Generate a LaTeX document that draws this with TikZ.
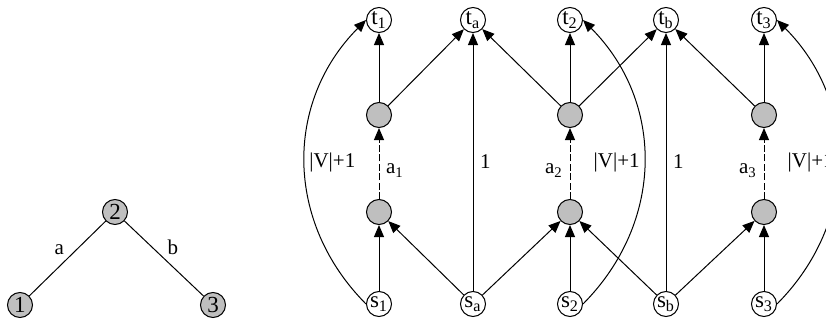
\documentclass[tikz,border=0pt]{standalone}
\usepackage{fontspec}
\setmainfont{Liberation Serif}
\usetikzlibrary{arrows.meta, positioning}

\begin{document}
\begin{tikzpicture}[
    x=0.5pt, y=-0.5pt,
    line width=0.5pt,
    font=\fontsize{10.5}{12}\selectfont,
    vertex/.style={circle, draw, fill=gray!50, minimum size=12.5pt, inner sep=0pt,
        font=\fontsize{11.5}{12}\selectfont},
    terminal/.style={circle, draw, fill=white, minimum size=12.5pt, inner sep=0pt,
        font=\fontsize{11.5}{12}\selectfont},
    arc/.style={-{Triangle[length=6pt, width=5pt]}},
    gadget/.style={arc, dash pattern=on 3.5pt off 1.2pt},
    weight/.style={inner sep=2pt}
]
    \useasboundingbox (0,0) rectangle (826,321);
    \clip (0,0) rectangle (826,321);

    % Input graph
    \node[vertex] (v1) at (20,305) {1};
    \node[vertex] (v2) at (115,212) {2};
    \node[vertex] (v3) at (213,305) {3};
    \draw (v1) -- node[above left, inner sep=1.5pt] {a} (v2);
    \draw (v2) -- node[above right, inner sep=1.5pt] {b} (v3);

    % Sources
    \node[terminal] (s1) at (379,304) {s\textsubscript{1}};
    \node[terminal] (sa) at (473,304) {s\textsubscript{a}};
    \node[terminal] (s2) at (570,304) {s\textsubscript{2}};
    \node[terminal] (sb) at (666,304) {s\textsubscript{b}};
    \node[terminal] (s3) at (764,304) {s\textsubscript{3}};

    % Sinks
    \node[terminal] (t1) at (379,20) {t\textsubscript{1}};
    \node[terminal] (ta) at (473,20) {t\textsubscript{a}};
    \node[terminal] (t2) at (570,20) {t\textsubscript{2}};
    \node[terminal] (tb) at (666,20) {t\textsubscript{b}};
    \node[terminal] (t3) at (764,20) {t\textsubscript{3}};

    % Inner vertices
    \node[vertex] (low1) at (379,212) {};
    \node[vertex] (low2) at (570,212) {};
    \node[vertex] (low3) at (764,212) {};
    \node[vertex] (up1) at (379,115) {};
    \node[vertex] (up2) at (570,115) {};
    \node[vertex] (up3) at (764,115) {};

    % Lower layer
    \draw[arc] (s1) -- (low1);
    \draw[arc] (sa) -- (low1);
    \draw[arc] (sa) -- (low2);
    \draw[arc] (s2) -- (low2);
    \draw[arc] (sb) -- (low2);
    \draw[arc] (sb) -- (low3);
    \draw[arc] (s3) -- (low3);

    % Middle layer
    \draw[gadget] (low1) -- node[right, pos=0.4] {a\textsubscript{1}} (up1);
    \draw[gadget] (low2) -- node[left, pos=0.4] {a\textsubscript{2}} (up2);
    \draw[gadget] (low3) -- node[left, pos=0.4] {a\textsubscript{3}} (up3);

    % Upper layer
    \draw[arc] (up1) -- (t1);
    \draw[arc] (up1) -- (ta);
    \draw[arc] (up2) -- (ta);
    \draw[arc] (up2) -- (t2);
    \draw[arc] (up2) -- (tb);
    \draw[arc] (up3) -- (tb);
    \draw[arc] (up3) -- (t3);

    % Direct arcs
    \draw[arc] (sa) -- node[right] {1} (ta);
    \draw[arc] (sb) -- node[right] {1} (tb);
    \draw[arc] (s1.west) .. controls (284.5,222) and (284.5,102) .. node[right, weight] {|V|+1} (t1.west);
    \draw[arc] (s2.east) .. controls (664.5,222) and (664.5,102) .. node[left, weight] {|V|+1} (t2.east);
    \draw[arc] (s3.east) .. controls (858.5,222) and (858.5,102) .. node[left, weight] {|V|+1} (t3.east);
\end{tikzpicture}
\end{document}
